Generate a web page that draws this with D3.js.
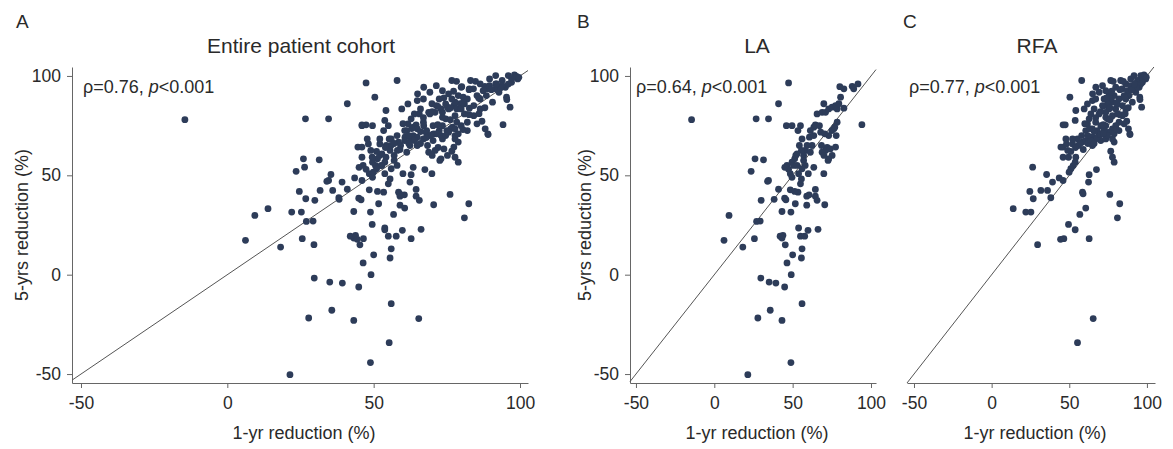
<!DOCTYPE html>
<html>
<head>
<meta charset="utf-8">
<script src="https://cdn.jsdelivr.net/npm/d3@7"></script>
<style>
  body { margin: 0; background: #fff; }
  text { font-family: "Liberation Sans", Arial, sans-serif; fill: #2a2a2a; }
</style>
</head>
<body>
<div id="chart"></div>
<script>
// 1-yr and 5-yrs reduction (%) per patient, LA group
const la1yr = [-14.5, 47.4, 41, 26.7, 34.6, 46, 49.6, 53.4, 55, 26, 31.4, 23.5, 34.6, 34, 41, 38.2, 29.9, 9.4, 29.3, 27,
  6.2, 25.6, 18.2, 29.7, 35, 39.3, 44.9, 27.8, 35.7, 43.2, 56, 48.9, 21.4, 49.1, 46.4, 50, 55.6, 56, 55, 53.8,
  57.7, 59.8, 66.2, 45.3, 43.2, 42, 43.8, 48.9, 43.2, 51.7, 44.9, 45.7, 48.5, 53.4, 51.3, 59, 59, 60.5, 64.5, 64.5,
  65.6, 70.5, 69.9, 55, 55.6, 53.8, 46.4, 47.4, 45, 48.5, 49.6, 51.3, 52, 49.6, 50.6, 52.8, 54.3, 58.1, 57, 57,
  58, 56, 60, 63.5, 60.7, 63.5, 63.5, 64.5, 67.1, 65.6, 69.9, 68.8, 71, 73, 75.2, 77.4, 78.4, 79.5, 80.6, 82.7,
  80.1, 82.7, 88, 89, 91.7, 94.2, 76.3, 75, 73, 72, 71, 74, 77.4, 77.8, 78.4, 76.9, 75.2, 72.6, 68.4, 68.8,
  62.4, 59.2, 55.6, 52.8, 56, 61.3, 67.9, 70.5, 73, 70, 61.3];
const la5yr = [78, 96.5, 86, 78.4, 78.4, 75, 75, 72.5, 75, 58.3, 57.8, 52, 47.4, 47, 43, 37.9, 37.4, 29.8, 27, 26.8,
  17.3, 18.1, 13.9, -1.7, -3.7, -4.2, -6.2, -21.8, -17.9, -23, -14.6, -44.2, -50.3, 0, 5.9, 10, 8.4, 13, 19.4, 23.5,
  19.4, 22.3, 22.8, 15, 18.4, 19.4, 19.8, 31.5, 31.8, 35.7, 38.5, 37.7, 42.7, 41.5, 41.9, 35, 39.5, 40.2, 42.9, 39.5,
  37.4, 35.2, 50.8, 45.7, 48.2, 50.8, 55, 53, 54, 50.8, 49, 58.3, 60, 56.6, 55, 55, 65, 62.5, 60, 57.5,
  55, 53.3, 50.8, 54, 69.2, 70, 74.2, 75.4, 75, 80.9, 86, 81.7, 81.7, 83.4, 84.3, 85, 83.4, 86, 89.3, 83.8,
  94.6, 93.5, 94.8, 93.5, 96, 75.5, 73.4, 72.5, 70, 64, 62.5, 63.3, 64.2, 70, 76.7, 74.2, 60, 57.5, 65, 61.6,
  65, 65, 62.5, 60.8, 68.3, 72.5, 71.7, 70.9, 58.3, 60, 61.6];

// RFA group
const rfa1yr = [58, 50.4, 13.9, 26.4, 24.6, 26.8, 22, 25.3, 29.6, 31.7, 36, 38.1, 35.4, 39.2, 43.5, 46, 44.4, 46.5, 49.5, 53.8,
  56.8, 60.6, 58.5, 58.9, 62.8, 62.4, 67.5, 62.8, 76.1, 82.5, 81, 76.7, 77.8, 78.9, 47.4, 46, 53.8, 54.2, 46, 48.2,
  52.1, 46, 49.5, 54.2, 53.8, 52.5, 51, 49.9, 55.9, 58.5, 60.6, 62.8, 64.9, 67, 70.3, 73.5, 78.9, 64.9, 60.6, 61.7,
  62.8, 63.9, 66, 59.6, 64.9, 67.1, 71.4, 69.2, 72.4, 76.7, 83.1, 79.9, 84.1, 86.4, 89.6, 91.7, 93.9, 96, 98.1, 97.1,
  99.2, 95, 95.4, 96.6, 92.8, 88.5, 90.6, 86.4, 84.2, 82, 79.9, 77.8, 75.6, 73.5, 71.4, 69.2, 74.6, 77.8, 81, 84.2,
  86.4, 88.1, 89, 85.3, 82, 79.9, 77.8, 75.6, 72.4, 70.3, 67, 73.5, 68.1, 64.9, 55.3, 52.1, 47.8, 44.6, 77.8, 78.9,
  82, 89.6, 91.7, 87.4, 85.3, 78.9, 75.6, 73.5, 76.7, 81, 74.6, 67, 61.7, 73.5, 71.4, 74.6, 69.2, 97.1, 98.8, 99.6,
  96, 93.9, 65.4, 55.3,
  84.8, 78.3, 93.4, 90.2, 82.6, 77.3, 85.9, 95.5, 80.5, 76.2, 71.9, 82.6, 76.2, 87, 71.9, 80.5, 89.1, 57, 59, 62,
  64, 66, 68, 70, 72, 66, 62, 58, 54, 51, 49, 60, 63, 67, 70, 65, 88, 92, 86, 74];
const rfa5yr = [97.7, 89.3, 33.2, 54.1, 41.9, 38.2, 31.5, 31.5, 15.1, 42.4, 42.4, 38.7, 50.4, 46.6, 48.7, 47.4, 17.8, 18.1, 25.3, 22.6,
  30.3, 33.5, 41.5, 40.7, 50.3, 46.6, 52.9, 18.1, 40.4, 35.7, 28.6, 62.1, 59.1, 56.6, 75.4, 75.4, 77.6, 82.6, 64.2, 65.8,
  65.8, 59.1, 59.1, 59.1, 56.6, 54.9, 53.3, 51.6, 65, 66.7, 67.5, 68.3, 69.2, 68.3, 67.5, 68.3, 66.7, 65, 72.5, 75.9,
  78.4, 80.9, 83.4, 83.4, 87.6, 94.3, 95.1, 91.8, 88.4, 97.7, 97.7, 94.3, 93.5, 96, 98.5, 100.2, 97.7, 100.2, 100.5, 96.8,
  98.5, 94.3, 89.3, 84.3, 91.8, 90.1, 86.8, 88.4, 85.1, 88.4, 83.4, 86.8, 83.4, 81.7, 85.1, 80.9, 78.4, 80, 80.9, 80,
  83.4, 73.4, 70.9, 75.9, 76.7, 75, 73.4, 71.7, 72.5, 75, 76.7, 75, 72.5, 73.4, 68.3, 68.3, 68.3, 64.2, 68.3, 70.9,
  72.5, 95.1, 93.5, 92.6, 90.1, 90.1, 91, 92.6, 88.4, 85.9, 85.9, 88.4, 85.9, 79.2, 70.9, 70, 70, 98.5, 99.8, 99.3,
  95.9, 95.1, -22.1, -34.2,
  97.3, 97.3, 94, 93.1, 93.1, 92.3, 88.9, 88.1, 86.4, 83.9, 84.7, 80.5, 78, 77.2, 75.5, 73, 70.5, 66, 63, 66,
  67.5, 66, 69, 70.5, 71, 72, 70, 70, 64, 62, 62.5, 76, 73.5, 79, 82, 91, 84, 96, 81, 89];

const tickVals = [-50, 0, 50, 100];
const panelLetters = ["A", "B", "C"];
const panelTitles = ["Entire patient cohort", "LA", "RFA"];
const rhoVals = ["0.76", "0.64", "0.77"];

const W = 1173, H = 449;
const plotTop = 67, plotBottom = 383;
const dotColor = "#2d3c59";

const svg = d3.select("#chart").append("svg")
    .attr("width", W)
    .attr("height", H);

const zip = (xs, ys) => xs.map((x, i) => ({x: x, y: ys[i]}));
const laData = zip(la1yr, la5yr);
const rfaData = zip(rfa1yr, rfa5yr);

// plot boxes in pixels and the axis domains that go with them
const panels = [
    {left: 72, right: 528, xDom: [-53.07, 102.73], data: laData.concat(rfaData), yAxis: true,
        letterX: 16, ytitleX: 22, titleX: 301, noteX: 83},
    {left: 630, right: 876, xDom: [-53.8, 103.2], data: laData, yAxis: true,
        letterX: 577, ytitleX: 585, titleX: 757, noteX: 636},
    {left: 907, right: 1155, xDom: [-54.5, 105.2], data: rfaData, yAxis: false,
        letterX: 903, ytitleX: 0, titleX: 1037, noteX: 909}
];

const fmt = d => String(d);  // plain hyphen for negatives, as in the figure

panels.forEach((p, i) => {
    let g = svg.append("g");

    let x = d3.scaleLinear().domain(p.xDom).range([p.left, p.right]);
    let y = d3.scaleLinear().domain([-54.5, 104.5]).range([plotBottom, plotTop]);

    // x axis
    let xAxis = g.append("g")
        .attr("transform", `translate(0,${plotBottom})`)
        .call(d3.axisBottom(x).tickValues(tickVals).tickFormat(fmt)
            .tickSize(5).tickSizeOuter(0).tickPadding(9));
    xAxis.selectAll("text").style("font-size", "17.5px");

    if (p.yAxis) {
        let yAxis = g.append("g")
            .attr("transform", `translate(${p.left},0)`)
            .call(d3.axisLeft(y).tickValues(tickVals).tickFormat(fmt)
                .tickSize(5).tickSizeOuter(0).tickPadding(6));
        yAxis.selectAll("text").style("font-size", "17.5px");

        g.append("text")
            .attr("transform", `translate(${p.ytitleX},${(plotTop + plotBottom) / 2}) rotate(-90)`)
            .attr("text-anchor", "middle")
            .attr("dy", "0.35em")
            .style("font-size", "18px")
            .text("5-yrs reduction (%)");
    }

    g.selectAll(".domain").attr("stroke", "#666");
    g.selectAll(".tick line").attr("stroke", "#666");

    // line of equality
    let lo = Math.max(p.xDom[0], y.domain()[0]);
    let hi = Math.min(p.xDom[1], y.domain()[1]);
    g.append("line")
        .attr("x1", x(lo)).attr("y1", y(lo))
        .attr("x2", x(hi)).attr("y2", y(hi))
        .attr("stroke", "#555")
        .attr("stroke-width", 1);

    g.selectAll(".dot")
        .data(p.data)
        .enter()
        .append("circle")
        .attr("class", "dot")
        .attr("cx", d => x(d.x))
        .attr("cy", d => y(d.y))
        .attr("r", 3.4)
        .attr("fill", dotColor);

    // x title
    g.append("text")
        .attr("x", (p.left + p.right) / 2 + 4)
        .attr("y", 439)
        .attr("text-anchor", "middle")
        .style("font-size", "18px")
        .text("1-yr reduction (%)");

    // panel title
    g.append("text")
        .attr("x", p.titleX)
        .attr("y", 53)
        .attr("text-anchor", "middle")
        .style("font-size", "21px")
        .text(panelTitles[i]);

    // panel letter
    g.append("text")
        .attr("x", p.letterX)
        .attr("y", 28)
        .style("font-size", "19px")
        .text(panelLetters[i]);

    // correlation note
    let note = g.append("text")
        .attr("x", p.noteX)
        .attr("y", 93)
        .style("font-size", "18px");
    note.append("tspan").text(`ρ=${rhoVals[i]}, `);
    note.append("tspan").style("font-style", "italic").text("p");
    note.append("tspan").text("<0.001");
});
</script>
</body>
</html>
